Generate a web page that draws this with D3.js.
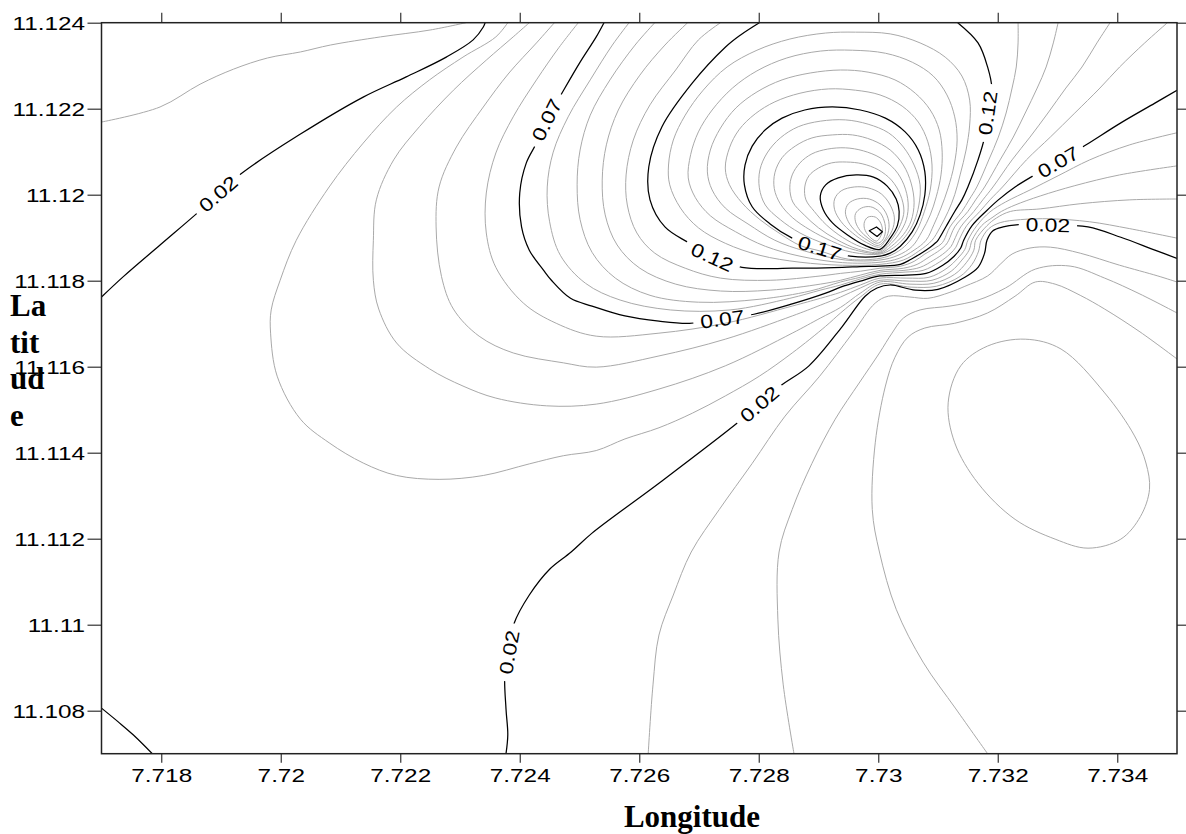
<!DOCTYPE html>
<html>
<head>
<meta charset="utf-8">
<script src="https://cdn.jsdelivr.net/npm/d3@7"></script>
<style>
  html, body { margin: 0; padding: 0; background: #fff; }
  svg { display: block; }
</style>
</head>
<body>
<svg id="chart" width="1186" height="834"></svg>
<script>
// ---- axes ----
const lonExtent = [7.717, 7.735];
const latExtent = [11.107, 11.124];
const lonTicks = [7.718, 7.72, 7.722, 7.724, 7.726, 7.728, 7.73, 7.732, 7.734];
const latTicks = [11.108, 11.11, 11.112, 11.114, 11.116, 11.118, 11.12, 11.122, 11.124];

// ---- traced isolines, [longitude, latitude] ----
const c001nw = [[7.71700,11.12169],[7.71798,11.12204],[7.71865,11.12257],[7.71921,11.12292],[7.71978,11.12318],[7.72033,11.12332],[7.72083,11.12348],[7.72167,11.12367],[7.72250,11.12383],[7.72310,11.12400]];
const c002nw = [[7.71700,11.11762],[7.71737,11.11810],[7.71798,11.11883],[7.71865,11.11963],[7.71933,11.12048],[7.72033,11.12141],[7.72138,11.12227],[7.72210,11.12274],[7.72277,11.12320],[7.72322,11.12360],[7.72339,11.12390],[7.72342,11.12400]];
const c002sw = [[7.71700,11.10806],[7.71728,11.10774],[7.71753,11.10744],[7.71785,11.10700]];
const c002 = [[7.72377,11.10700],[7.72380,11.10744],[7.72377,11.10804],[7.72375,11.10883],[7.72382,11.10936],[7.72390,11.11001],[7.72416,11.11069],[7.72450,11.11129],[7.72486,11.11169],[7.72521,11.11213],[7.72633,11.11329],[7.72764,11.11469],[7.72801,11.11513],[7.72836,11.11555],[7.72884,11.11602],[7.72940,11.11694],[7.72978,11.11764],[7.72998,11.11783],[7.73020,11.11790],[7.73062,11.11778],[7.73100,11.11780],[7.73145,11.11808],[7.73167,11.11831],[7.73178,11.11864],[7.73182,11.11894],[7.73192,11.11916],[7.73209,11.11925],[7.73231,11.11930],[7.73284,11.11930],[7.73351,11.11925],[7.73406,11.11901],[7.73463,11.11871],[7.73500,11.11852]];
const c003 = [[7.72380,11.12400],[7.72360,11.12367],[7.72305,11.12320],[7.72249,11.12267],[7.72194,11.12204],[7.72138,11.12120],[7.72081,11.12018],[7.72026,11.11894],[7.71999,11.11801],[7.71984,11.11732],[7.71983,11.11678],[7.71994,11.11578],[7.72033,11.11478],[7.72081,11.11423],[7.72138,11.11376],[7.72194,11.11347],[7.72265,11.11338],[7.72339,11.11347],[7.72416,11.11374],[7.72473,11.11393],[7.72528,11.11405],[7.72576,11.11432],[7.72633,11.11458],[7.72689,11.11492],[7.72744,11.11532],[7.72801,11.11578],[7.72856,11.11632],[7.72912,11.11694],[7.72937,11.11725],[7.72970,11.11762],[7.73003,11.11792],[7.73055,11.11785],[7.73097,11.11787],[7.73137,11.11810],[7.73157,11.11838],[7.73168,11.11869],[7.73172,11.11894],[7.73185,11.11921],[7.73204,11.11935],[7.73238,11.11942],[7.73288,11.11944],[7.73354,11.11937],[7.73421,11.11921],[7.73500,11.11899]];
const c004 = [[7.72416,11.12400],[7.72389,11.12367],[7.72344,11.12313],[7.72289,11.12243],[7.72232,11.12158],[7.72189,11.12081],[7.72160,11.11988],[7.72155,11.11894],[7.72155,11.11801],[7.72164,11.11734],[7.72194,11.11655],[7.72249,11.11595],[7.72305,11.11555],[7.72360,11.11527],[7.72445,11.11509],[7.72528,11.11513],[7.72633,11.11548],[7.72744,11.11602],[7.72856,11.11678],[7.72903,11.11713],[7.72937,11.11738],[7.72970,11.11771],[7.73003,11.11797],[7.73053,11.11792],[7.73093,11.11794],[7.73128,11.11815],[7.73148,11.11843],[7.73160,11.11871],[7.73163,11.11894],[7.73182,11.11928],[7.73198,11.11946],[7.73221,11.11961],[7.73271,11.11967],[7.73338,11.11979],[7.73421,11.11988],[7.73500,11.11990]];
const c005 = [[7.72458,11.12400],[7.72428,11.12353],[7.72382,11.12283],[7.72339,11.12204],[7.72294,11.12111],[7.72265,11.12018],[7.72260,11.11925],[7.72269,11.11810],[7.72289,11.11734],[7.72332,11.11671],[7.72389,11.11632],[7.72473,11.11609],[7.72528,11.11599],[7.72633,11.11625],[7.72744,11.11664],[7.72856,11.11718],[7.72903,11.11743],[7.72937,11.11762],[7.72970,11.11783],[7.73003,11.11801],[7.73052,11.11799],[7.73090,11.11801],[7.73122,11.11822],[7.73140,11.11848],[7.73152,11.11871],[7.73157,11.11894],[7.73173,11.11928],[7.73192,11.11948],[7.73206,11.11961],[7.73229,11.11976],[7.73271,11.11997],[7.73329,11.12021],[7.73404,11.12046],[7.73500,11.12067]];
const c006 = [[7.72498,11.12400],[7.72466,11.12343],[7.72428,11.12267],[7.72389,11.12181],[7.72360,11.12097],[7.72344,11.12004],[7.72344,11.11911],[7.72360,11.11831],[7.72406,11.11748],[7.72461,11.11701],[7.72528,11.11671],[7.72633,11.11678],[7.72744,11.11701],[7.72856,11.11741],[7.72903,11.11759],[7.72937,11.11773],[7.72970,11.11790],[7.73003,11.11806],[7.73048,11.11806],[7.73085,11.11808],[7.73115,11.11829],[7.73133,11.11852],[7.73145,11.11873],[7.73150,11.11894],[7.73165,11.11928],[7.73187,11.11960],[7.73213,11.11983],[7.73254,11.12011],[7.73301,11.12044],[7.73354,11.12081],[7.73421,11.12116],[7.73500,11.12144]];
const c007 = [[7.72541,11.12400],[7.72528,11.12367],[7.72500,11.12306],[7.72466,11.12225],[7.72445,11.12174],[7.72428,11.12120],[7.72411,11.12074],[7.72400,11.12004],[7.72403,11.11925],[7.72416,11.11871],[7.72440,11.11824],[7.72453,11.11801],[7.72485,11.11759],[7.72521,11.11741],[7.72576,11.11718],[7.72633,11.11706],[7.72684,11.11701],[7.72739,11.11711],[7.72792,11.11722],[7.72856,11.11746],[7.72912,11.11771],[7.72937,11.11785],[7.72970,11.11799],[7.73003,11.11811],[7.73047,11.11813],[7.73080,11.11817],[7.73108,11.11836],[7.73127,11.11857],[7.73138,11.11876],[7.73143,11.11894],[7.73157,11.11928],[7.73180,11.11961],[7.73201,11.11988],[7.73229,11.12018],[7.73268,11.12051],[7.73301,11.12076],[7.73348,11.12116],[7.73406,11.12167],[7.73463,11.12213],[7.73500,11.12243]];
const c008 = [[7.72583,11.12400],[7.72555,11.12348],[7.72518,11.12267],[7.72481,11.12181],[7.72456,11.12099],[7.72446,11.12018],[7.72450,11.11937],[7.72468,11.11859],[7.72510,11.11794],[7.72568,11.11755],[7.72652,11.11732],[7.72752,11.11732],[7.72852,11.11759],[7.72903,11.11778],[7.72937,11.11790],[7.72970,11.11804],[7.73003,11.11815],[7.73045,11.11820],[7.73075,11.11824],[7.73102,11.11843],[7.73120,11.11862],[7.73130,11.11878],[7.73135,11.11894],[7.73148,11.11928],[7.73170,11.11961],[7.73187,11.11988],[7.73208,11.12018],[7.73248,11.12081],[7.73288,11.12134],[7.73329,11.12190],[7.73371,11.12248],[7.73404,11.12297],[7.73446,11.12353],[7.73484,11.12400]];
const c009 = [[7.72626,11.12400],[7.72593,11.12348],[7.72551,11.12267],[7.72518,11.12185],[7.72501,11.12104],[7.72496,11.12023],[7.72501,11.11942],[7.72521,11.11866],[7.72560,11.11806],[7.72618,11.11766],[7.72699,11.11750],[7.72802,11.11757],[7.72886,11.11776],[7.72937,11.11797],[7.72970,11.11808],[7.73003,11.11820],[7.73043,11.11824],[7.73070,11.11831],[7.73093,11.11848],[7.73112,11.11866],[7.73122,11.11880],[7.73127,11.11894],[7.73138,11.11925],[7.73160,11.11961],[7.73175,11.11988],[7.73192,11.12018],[7.73224,11.12081],[7.73254,11.12134],[7.73284,11.12190],[7.73314,11.12248],[7.73341,11.12297],[7.73366,11.12353],[7.73388,11.12400]];
const c010 = [[7.72681,11.12400],[7.72643,11.12348],[7.72601,11.12278],[7.72565,11.12197],[7.72545,11.12116],[7.72538,11.12034],[7.72543,11.11953],[7.72563,11.11883],[7.72601,11.11829],[7.72661,11.11792],[7.72736,11.11776],[7.72819,11.11778],[7.72903,11.11792],[7.72937,11.11801],[7.72970,11.11813],[7.73003,11.11824],[7.73042,11.11829],[7.73065,11.11838],[7.73085,11.11855],[7.73103,11.11871],[7.73113,11.11883],[7.73118,11.11894],[7.73128,11.11925],[7.73150,11.11961],[7.73163,11.11988],[7.73178,11.12018],[7.73204,11.12081],[7.73226,11.12134],[7.73246,11.12190],[7.73266,11.12248],[7.73281,11.12297],[7.73293,11.12353],[7.73301,11.12400]];
const c011 = [[7.72736,11.12400],[7.72699,11.12360],[7.72661,11.12290],[7.72618,11.12209],[7.72590,11.12127],[7.72578,11.12046],[7.72580,11.11976],[7.72596,11.11911],[7.72626,11.11864],[7.72677,11.11829],[7.72736,11.11806],[7.72819,11.11801],[7.72903,11.11811],[7.72937,11.11817],[7.72970,11.11822],[7.73003,11.11829],[7.73038,11.11834],[7.73060,11.11845],[7.73078,11.11862],[7.73095,11.11876],[7.73105,11.11885],[7.73110,11.11894],[7.73120,11.11925],[7.73140,11.11961],[7.73152,11.11988],[7.73165,11.12018],[7.73185,11.12081],[7.73201,11.12134],[7.73214,11.12190],[7.73224,11.12248],[7.73231,11.12297],[7.73234,11.12353],[7.73234,11.12400]];
const c012 = [[7.72801,11.12400],[7.72769,11.12371],[7.72744,11.12343],[7.72689,11.12260],[7.72638,11.12158],[7.72616,11.12065],[7.72618,11.11988],[7.72643,11.11925],[7.72684,11.11887],[7.72722,11.11855],[7.72772,11.11831],[7.72856,11.11829],[7.72940,11.11831],[7.72970,11.11833],[7.73003,11.11834],[7.73037,11.11838],[7.73055,11.11850],[7.73072,11.11864],[7.73087,11.11878],[7.73095,11.11887],[7.73100,11.11894],[7.73113,11.11925],[7.73128,11.11961],[7.73140,11.11988],[7.73150,11.12018],[7.73167,11.12081],[7.73178,11.12134],[7.73183,11.12190],[7.73190,11.12248],[7.73183,11.12297],[7.73167,11.12353],[7.73133,11.12400]];
// closed rings around the maximum
const c013 = [[7.73003,11.11838],[7.72940,11.11836],[7.72869,11.11843],[7.72802,11.11859],[7.72744,11.11887],[7.72699,11.11923],[7.72669,11.11969],[7.72651,11.12023],[7.72649,11.12069],[7.72657,11.12127],[7.72677,11.12185],[7.72707,11.12243],[7.72747,11.12297],[7.72797,11.12336],[7.72852,11.12362],[7.72912,11.12376],[7.72962,11.12378],[7.73020,11.12374],[7.73070,11.12353],[7.73112,11.12320],[7.73140,11.12276],[7.73153,11.12220],[7.73153,11.12162],[7.73147,11.12104],[7.73137,11.12046],[7.73128,11.12000],[7.73117,11.11961],[7.73103,11.11923],[7.73090,11.11894],[7.73068,11.11869],[7.73042,11.11848]];
const c014 = [[7.73003,11.11843],[7.72940,11.11842],[7.72869,11.11857],[7.72811,11.11880],[7.72761,11.11914],[7.72719,11.11951],[7.72694,11.11993],[7.72682,11.12039],[7.72686,11.12093],[7.72699,11.12146],[7.72722,11.12197],[7.72756,11.12248],[7.72797,11.12288],[7.72847,11.12318],[7.72903,11.12334],[7.72957,11.12336],[7.73012,11.12329],[7.73057,11.12308],[7.73092,11.12276],[7.73115,11.12232],[7.73128,11.12181],[7.73132,11.12127],[7.73127,11.12069],[7.73117,11.12016],[7.73105,11.11969],[7.73093,11.11930],[7.73080,11.11894],[7.73060,11.11871],[7.73035,11.11852]];
const c015 = [[7.73003,11.11848],[7.72945,11.11848],[7.72877,11.11869],[7.72827,11.11894],[7.72782,11.11932],[7.72744,11.11969],[7.72722,11.12011],[7.72714,11.12053],[7.72719,11.12104],[7.72736,11.12155],[7.72762,11.12202],[7.72797,11.12239],[7.72839,11.12267],[7.72886,11.12283],[7.72937,11.12290],[7.72983,11.12285],[7.73028,11.12267],[7.73062,11.12236],[7.73087,11.12197],[7.73102,11.12151],[7.73107,11.12099],[7.73105,11.12046],[7.73097,11.11995],[7.73087,11.11953],[7.73073,11.11914],[7.73057,11.11880],[7.73033,11.11859]];
const c016 = [[7.73003,11.11852],[7.72950,11.11850],[7.72903,11.11869],[7.72869,11.11882],[7.72836,11.11909],[7.72802,11.11942],[7.72772,11.11981],[7.72751,11.12023],[7.72744,11.12062],[7.72751,11.12109],[7.72767,11.12151],[7.72794,11.12188],[7.72827,11.12216],[7.72869,11.12236],[7.72917,11.12246],[7.72962,11.12243],[7.73003,11.12232],[7.73040,11.12206],[7.73067,11.12169],[7.73083,11.12123],[7.73090,11.12069],[7.73087,11.12011],[7.73077,11.11960],[7.73065,11.11918],[7.73048,11.11885],[7.73028,11.11864]];
const c017 = [[7.73003,11.11857],[7.72953,11.11857],[7.72902,11.11876],[7.72856,11.11899],[7.72819,11.11932],[7.72789,11.11972],[7.72776,11.12023],[7.72777,11.12069],[7.72789,11.12113],[7.72811,11.12151],[7.72839,11.12178],[7.72877,11.12197],[7.72923,11.12204],[7.72970,11.12197],[7.73012,11.12178],[7.73045,11.12146],[7.73067,11.12104],[7.73078,11.12053],[7.73078,11.12000],[7.73070,11.11953],[7.73057,11.11914],[7.73037,11.11880],[7.73020,11.11864]];
const c018 = [[7.73003,11.11862],[7.72957,11.11866],[7.72912,11.11885],[7.72869,11.11911],[7.72836,11.11942],[7.72811,11.11976],[7.72801,11.12016],[7.72802,11.12058],[7.72814,11.12097],[7.72836,11.12132],[7.72866,11.12158],[7.72903,11.12171],[7.72945,11.12174],[7.72983,11.12164],[7.73017,11.12144],[7.73042,11.12111],[7.73060,11.12069],[7.73070,11.12023],[7.73068,11.11976],[7.73060,11.11937],[7.73045,11.11902],[7.73025,11.11876]];
const c019 = [[7.73003,11.11864],[7.72962,11.11871],[7.72922,11.11892],[7.72886,11.11918],[7.72857,11.11946],[7.72836,11.11979],[7.72826,11.12014],[7.72827,11.12051],[7.72839,11.12086],[7.72861,11.12113],[7.72889,11.12132],[7.72923,11.12139],[7.72957,11.12139],[7.72990,11.12127],[7.73020,11.12104],[7.73042,11.12069],[7.73055,11.12027],[7.73060,11.11981],[7.73055,11.11939],[7.73042,11.11907],[7.73022,11.11880]];
const c020 = [[7.73003,11.11866],[7.72967,11.11873],[7.72930,11.11896],[7.72900,11.11923],[7.72876,11.11953],[7.72857,11.11983],[7.72852,11.12016],[7.72856,11.12046],[7.72869,11.12074],[7.72889,11.12095],[7.72915,11.12106],[7.72945,11.12109],[7.72975,11.12102],[7.73003,11.12086],[7.73028,11.12058],[7.73043,11.12023],[7.73050,11.11981],[7.73047,11.11942],[7.73035,11.11909],[7.73018,11.11882]];
const c021 = [[7.73003,11.11869],[7.72972,11.11878],[7.72940,11.11901],[7.72913,11.11930],[7.72893,11.11961],[7.72879,11.11988],[7.72877,11.12018],[7.72884,11.12044],[7.72900,11.12062],[7.72922,11.12074],[7.72947,11.12076],[7.72973,11.12072],[7.73000,11.12058],[7.73022,11.12034],[7.73037,11.12000],[7.73043,11.11962],[7.73037,11.11930],[7.73025,11.11901],[7.73013,11.11880]];
const c022 = [[7.73003,11.11873],[7.72978,11.11882],[7.72948,11.11907],[7.72923,11.11935],[7.72908,11.11965],[7.72903,11.11997],[7.72912,11.12023],[7.72933,11.12039],[7.72963,11.12046],[7.72992,11.12041],[7.73015,11.12020],[7.73030,11.11990],[7.73035,11.11961],[7.73032,11.11928],[7.73020,11.11899]];
const c023 = [[7.73002,11.11878],[7.72980,11.11889],[7.72957,11.11911],[7.72938,11.11937],[7.72927,11.11965],[7.72927,11.11990],[7.72938,11.12009],[7.72960,11.12018],[7.72983,11.12016],[7.73005,11.12002],[7.73020,11.11976],[7.73027,11.11946],[7.73023,11.11916],[7.73010,11.11889]];
const c024 = [[7.73000,11.11882],[7.72982,11.11894],[7.72963,11.11914],[7.72950,11.11937],[7.72945,11.11960],[7.72950,11.11979],[7.72965,11.11990],[7.72985,11.11990],[7.73003,11.11976],[7.73015,11.11951],[7.73018,11.11923],[7.73012,11.11897]];
const c025 = [[7.72998,11.11887],[7.72983,11.11899],[7.72970,11.11916],[7.72962,11.11937],[7.72962,11.11956],[7.72972,11.11969],[7.72987,11.11972],[7.73002,11.11960],[7.73010,11.11939],[7.73012,11.11914],[7.73007,11.11894]];
const c026 = [[7.72997,11.11892],[7.72985,11.11903],[7.72977,11.11921],[7.72977,11.11937],[7.72983,11.11948],[7.72995,11.11948],[7.73003,11.11937],[7.73007,11.11918],[7.73003,11.11901]];
const c027 = [[7.72985,11.11916],[7.72997,11.11925],[7.73007,11.11914],[7.72998,11.11903]];
// low side, south-east
const c001se = [[7.72615,11.10700],[7.72623,11.10860],[7.72633,11.10976],[7.72657,11.11069],[7.72687,11.11169],[7.72734,11.11268],[7.72789,11.11375],[7.72844,11.11485],[7.72902,11.11578],[7.72957,11.11678],[7.72995,11.11748],[7.73017,11.11764],[7.73053,11.11762],[7.73083,11.11759],[7.73120,11.11773],[7.73145,11.11787],[7.73183,11.11811],[7.73204,11.11838],[7.73224,11.11862],[7.73254,11.11876],[7.73288,11.11878],[7.73338,11.11864],[7.73404,11.11836],[7.73468,11.11811],[7.73500,11.11797]];
const c000 = [[7.72859,11.10700],[7.72841,11.10860],[7.72832,11.11013],[7.72834,11.11169],[7.72856,11.11268],[7.72889,11.11375],[7.72928,11.11478],[7.72968,11.11562],[7.73002,11.11632],[7.73023,11.11678],[7.73042,11.11713],[7.73070,11.11732],[7.73120,11.11741],[7.73167,11.11755],[7.73213,11.11783],[7.73263,11.11827],[7.73321,11.11834],[7.73379,11.11806],[7.73438,11.11769],[7.73500,11.11725]];
const cm001 = [[7.73183,11.10700],[7.73130,11.10804],[7.73075,11.10913],[7.73030,11.11036],[7.73002,11.11169],[7.72990,11.11268],[7.72995,11.11423],[7.73012,11.11555],[7.73028,11.11622],[7.73050,11.11669],[7.73078,11.11690],[7.73128,11.11701],[7.73183,11.11725],[7.73229,11.11764],[7.73263,11.11797],[7.73296,11.11792],[7.73338,11.11766],[7.73379,11.11734],[7.73438,11.11681],[7.73500,11.11618]];
const cm002 = [[7.73117,11.11516],[7.73128,11.11423],[7.73167,11.11329],[7.73229,11.11245],[7.73296,11.11199],[7.73351,11.11178],[7.73406,11.11199],[7.73439,11.11252],[7.73454,11.11315],[7.73448,11.11376],[7.73429,11.11439],[7.73379,11.11539],[7.73306,11.11641],[7.73246,11.11664],[7.73183,11.11648],[7.73138,11.11602]];

const isolines = [
  {level: 0.01, pts: c001nw}, {level: 0.02, pts: c002nw}, {level: 0.02, pts: c002sw},
  {level: 0.02, pts: c002}, {level: 0.03, pts: c003}, {level: 0.04, pts: c004},
  {level: 0.05, pts: c005}, {level: 0.06, pts: c006}, {level: 0.07, pts: c007},
  {level: 0.08, pts: c008}, {level: 0.09, pts: c009}, {level: 0.10, pts: c010},
  {level: 0.11, pts: c011}, {level: 0.12, pts: c012},
  {level: 0.13, pts: c013, closed: true}, {level: 0.14, pts: c014, closed: true},
  {level: 0.15, pts: c015, closed: true}, {level: 0.16, pts: c016, closed: true},
  {level: 0.17, pts: c017, closed: true}, {level: 0.18, pts: c018, closed: true},
  {level: 0.19, pts: c019, closed: true}, {level: 0.20, pts: c020, closed: true},
  {level: 0.21, pts: c021, closed: true}, {level: 0.22, pts: c022, closed: true},
  {level: 0.23, pts: c023, closed: true}, {level: 0.24, pts: c024, closed: true},
  {level: 0.25, pts: c025, closed: true}, {level: 0.26, pts: c026, closed: true},
  {level: 0.27, pts: c027, closed: true, facet: true},
  {level: 0.01, pts: c001se}, {level: 0.00, pts: c000},
  {level: -0.01, pts: cm001}, {level: -0.02, pts: cm002, closed: true}
];

// contour labels: [level, longitude, latitude]
const contourLabels = [
  [0.02, 7.71895, 11.12002], [0.07, 7.72445, 11.12174], [0.12, 7.72722, 11.11855],
  [0.17, 7.72902, 11.11876], [0.07, 7.72739, 11.11711], [0.02, 7.72801, 11.11513],
  [0.02, 7.72382, 11.10936], [0.07, 7.73301, 11.12076], [0.02, 7.73284, 11.11930],
  [0.12, 7.73183, 11.12190]
];

// ---- drawing ----
const W = 1186, H = 834;
const frame = {x0: 101.5, y0: 22.7, x1: 1177, y1: 753.7};
const svg = d3.select("#chart");
const x = d3.scaleLinear().domain(lonExtent).range([frame.x0, frame.x1]);
const y = d3.scaleLinear().domain(latExtent).range([frame.y1, frame.y0]);

const sansFont = "'Liberation Sans', Arial, sans-serif";
const serifFont = "'Liberation Serif', 'Times New Roman', serif";

const defs = svg.append("defs");
defs.append("clipPath").attr("id", "plotClip").append("rect")
  .attr("x", frame.x0).attr("y", frame.y0)
  .attr("width", frame.x1 - frame.x0).attr("height", frame.y1 - frame.y0);

const isMajor = v => Math.abs((v - 0.02) / 0.05 - Math.round((v - 0.02) / 0.05)) < 1e-6;
const fmtLevel = d3.format(".2f");

const lineOpen = d3.line().x(d => x(d[0])).y(d => y(d[1])).curve(d3.curveCatmullRom.alpha(0.5));
const lineClosed = d3.line().x(d => x(d[0])).y(d => y(d[1])).curve(d3.curveCatmullRomClosed.alpha(0.5));
const lineFacet = d3.line().x(d => x(d[0])).y(d => y(d[1])).curve(d3.curveLinearClosed);

// attach every label to the nearest isoline of its level and orient it along that line
const labelInfo = contourLabels.map(([lev, lon, lat]) => {
  const px = x(lon), py = y(lat);
  let best = null;
  isolines.forEach((iso, k) => {
    if (Math.abs(iso.level - lev) > 1e-9) return;
    const p = iso.pts.map(d => [x(d[0]), y(d[1])]);
    p.forEach((q, i) => {
      const dd = (q[0] - px) ** 2 + (q[1] - py) ** 2;
      if (!best || dd < best.dd) best = {dd, k, i, p};
    });
  });
  const n = best.p.length, closed = !!isolines[best.k].closed;
  const a = best.p[best.i > 0 ? best.i - 1 : (closed ? n - 1 : 0)];
  const b = best.p[best.i < n - 1 ? best.i + 1 : (closed ? 0 : n - 1)];
  let ang = Math.atan2(b[1] - a[1], b[0] - a[0]) * 180 / Math.PI;
  if (ang >= 90) ang -= 180;
  if (ang < -90) ang += 180;
  return {lev, px, py, ang, k: best.k};
});

// a mask per labelled isoline so the line breaks under its labels
const masks = {};
labelInfo.forEach(l => {
  if (masks[l.k]) return;
  const m = defs.append("mask").attr("id", "gap" + l.k)
    .attr("maskUnits", "userSpaceOnUse")
    .attr("x", 0).attr("y", 0).attr("width", W).attr("height", H);
  m.append("rect").attr("width", W).attr("height", H).attr("fill", "#fff");
  masks[l.k] = m;
});

const gLines = svg.append("g").attr("clip-path", "url(#plotClip)");
const order = isolines.map((d, k) => k).sort((a, b) => isMajor(isolines[a].level) - isMajor(isolines[b].level));
order.forEach(k => {
  const iso = isolines[k];
  const gen = iso.facet ? lineFacet : (iso.closed ? lineClosed : lineOpen);
  const major = isMajor(iso.level);
  const p = gLines.append("path")
    .attr("d", gen(iso.pts))
    .attr("fill", "none")
    .attr("stroke", major ? "#000" : "#a9a9a9")
    .attr("stroke-width", major ? 1.25 : 1)
    .attr("stroke-linejoin", "round");
  if (masks[k]) p.attr("mask", `url(#gap${k})`);
});

// labels
const labelScale = 1.2;
const gLab = svg.append("g");
labelInfo.forEach(l => {
  const tr = `translate(${l.px},${l.py}) rotate(${l.ang})`;
  const g = gLab.append("g").attr("transform", tr);
  const t = g.append("text")
    .attr("text-anchor", "middle")
    .attr("dy", "0.36em")
    .attr("transform", `scale(${labelScale},1)`)
    .style("font-family", sansFont)
    .style("font-size", "19px")
    .attr("fill", "#000")
    .text(fmtLevel(l.lev));
  const w = t.node().getComputedTextLength() * labelScale;
  masks[l.k].append("rect")
    .attr("transform", tr)
    .attr("x", -w / 2 - 7).attr("y", -9)
    .attr("width", w + 14).attr("height", 18)
    .attr("fill", "#000");
});

// axes
const fmtTick = d => String(+d.toFixed(3));
const tickScale = 1.35;
const styleAxis = g => {
  g.select(".domain").remove();
  g.selectAll(".tick line").attr("stroke", "#333").attr("stroke-width", 1.2);
};

const axB = svg.append("g").attr("transform", `translate(0,${frame.y1})`)
  .call(d3.axisBottom(x).tickValues(lonTicks).tickFormat(fmtTick).tickSize(9))
  .call(styleAxis);
axB.selectAll(".tick text")
  .attr("y", 15.5).attr("dy", "0.71em")
  .attr("transform", `scale(${tickScale},1)`)
  .attr("fill", "#000")
  .style("font-family", sansFont).style("font-size", "18px");

const axL = svg.append("g").attr("transform", `translate(${frame.x0},0)`)
  .call(d3.axisLeft(y).tickValues(latTicks).tickFormat(fmtTick).tickSize(14))
  .call(styleAxis);
axL.selectAll(".tick text")
  .attr("x", -16.5 / tickScale).attr("dy", "0.36em")
  .attr("transform", `scale(${tickScale},1)`)
  .attr("fill", "#000")
  .style("font-family", sansFont).style("font-size", "18px");

svg.append("g").attr("transform", `translate(0,${frame.y0})`)
  .call(d3.axisTop(x).tickValues(lonTicks).tickFormat(() => "").tickSize(10))
  .call(styleAxis);
svg.append("g").attr("transform", `translate(${frame.x1},0)`)
  .call(d3.axisRight(y).tickValues(latTicks).tickFormat(() => "").tickSize(10))
  .call(styleAxis);

// frame
svg.append("rect")
  .attr("x", frame.x0).attr("y", frame.y0)
  .attr("width", frame.x1 - frame.x0).attr("height", frame.y1 - frame.y0)
  .attr("fill", "none").attr("stroke", "#222").attr("stroke-width", 1.5);

// axis titles
svg.append("text")
  .attr("x", 692).attr("y", 827)
  .attr("text-anchor", "middle")
  .style("font-family", serifFont).style("font-weight", "bold").style("font-size", "31px")
  .text("Longitude");

const yTitle = svg.append("text")
  .style("font-family", serifFont).style("font-weight", "bold").style("font-size", "31px");
["La", "tit", "ud", "e"].forEach((s, i) => {
  yTitle.append("tspan").attr("x", 10).attr("y", 316 + i * 36.7).text(s);
});
</script>
</body>
</html>
